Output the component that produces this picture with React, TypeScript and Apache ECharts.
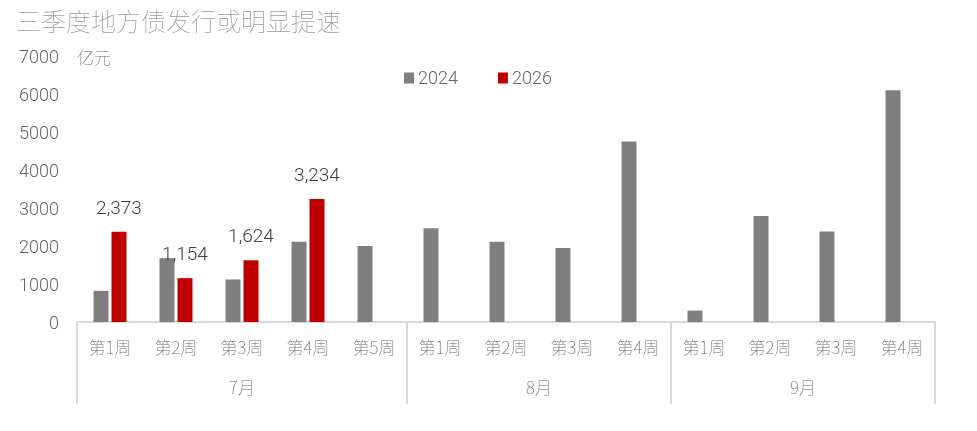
import React, { useEffect, useRef } from "react";
import * as echarts from "echarts";

const title = "三季度地方债发行或明显提速";
const unit = "亿元";
const weeks = ["第1周", "第2周", "第3周", "第4周", "第5周", "第1周", "第2周", "第3周", "第4周", "第1周", "第2周", "第3周", "第4周"];
const months = ["7月", "8月", "9月"];
const monthCenters = [2.5, 7, 11];
const monthBounds = [0, 5, 9, 13];
const series2024 = [820, 1680, 1120, 2110, 2000, 2470, 2110, 1950, 4750, 300, 2790, 2380, 6100];
const series2026 = [2373, 1154, 1624, 3234, null, null, null, null, null, null, null, null, null];
const yTicks = [0, 1000, 2000, 3000, 4000, 5000, 6000, 7000];

const FONT = "Roboto, 'Liberation Sans', Arial, 'Noto Sans CJK SC', sans-serif";
const CJK = "'Noto Sans CJK SC', sans-serif";
const TXT = "#666666";

export default function App() {
  const ref = useRef<HTMLDivElement>(null);
  useEffect(() => {
    if (!ref.current) return;
    const chart = echarts.init(ref.current, null, { renderer: "svg" });
    chart.setOption({
      animation: false,
      textStyle: { fontFamily: FONT },
      title: {
        text: title,
        left: 11,
        top: 2,
        textStyle: { fontSize: 25, fontWeight: "lighter", color: "#999999", fontFamily: CJK },
      },
      legend: {
        left: 399,
        top: 64,
        itemWidth: 10,
        itemHeight: 11,
        itemGap: 40,
        textStyle: { fontSize: 18, color: TXT, fontWeight: 300, padding: [0, 0, 0, -1] },
        data: ["2024", "2026"],
        icon: "rect",
      },
      grid: { left: 77, right: 42, top: 56, bottom: 109, containLabel: false },
      xAxis: [
        {
          type: "category",
          data: weeks,
          position: "bottom",
          axisLine: { show: true, lineStyle: { color: "#d9d9d9", width: 2 } },
          axisTick: { show: false },
          axisLabel: { interval: 0, margin: 16, fontSize: 17, color: TXT, fontFamily: CJK, fontWeight: "lighter" },
        },
        {
          type: "value",
          min: 0,
          max: 13,
          position: "bottom",
          axisLine: { show: false },
          splitLine: { show: false },
          axisTick: {
            show: true,
            customValues: monthBounds,
            length: 82,
            lineStyle: { color: "#d9d9d9", width: 2 },
          },
          axisLabel: {
            customValues: monthCenters,
            margin: 56,
            fontSize: 17,
            color: TXT,
            fontFamily: CJK,
            fontWeight: "lighter",
            formatter: (v: number) => {
              const i = monthCenters.indexOf(v);
              return i >= 0 ? months[i] : "";
            },
          },
        },
      ],
      yAxis: {
        type: "value",
        min: yTicks[0],
        max: yTicks[yTicks.length - 1],
        interval: 1000,
        name: unit,
        nameLocation: "end",
        nameGap: 0,
        nameTextStyle: {
          align: "left",
          verticalAlign: "middle",
          fontSize: 17,
          color: TXT,
          fontFamily: CJK,
          fontWeight: "lighter",
          padding: [0, 0, 0, 0],
        },
        axisLine: { show: false },
        axisTick: { show: false },
        splitLine: { show: false },
        axisLabel: { fontSize: 18, color: TXT, fontWeight: 300, margin: 18, formatter: (v: number) => String(v) },
      },
      series: [
        {
          name: "2024",
          type: "bar",
          data: series2024,
          barWidth: 15,
          barGap: "20%",
          itemStyle: { color: "#7f7f7f" },
        },
        {
          name: "2026",
          type: "bar",
          data: series2026,
          barWidth: 15,
          itemStyle: { color: "#c00000" },
          label: {
            show: true,
            position: "top",
            distance: 15,
            fontSize: 19,
            fontWeight: 300,
            color: "#404040",
            formatter: (p: any) => (p.value == null ? "" : Number(p.value).toLocaleString("en-US")),
          },
        },
      ],
    });
    return () => chart.dispose();
  }, []);
  return <div ref={ref} style={{ position: "fixed", left: 0, top: 0, width: 977, height: 431 }} />;
}
